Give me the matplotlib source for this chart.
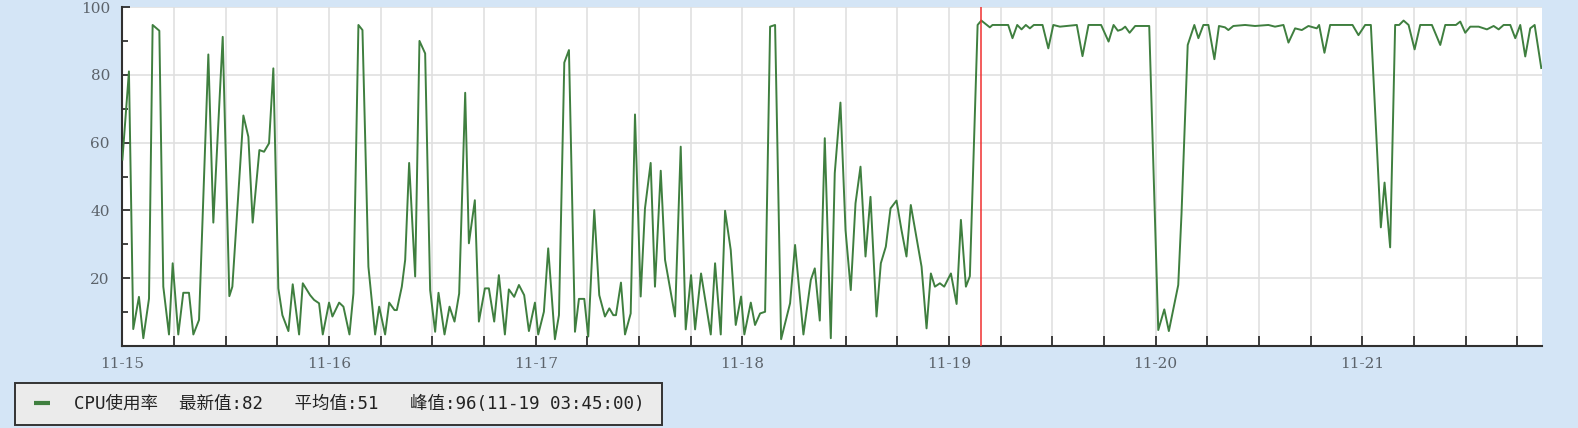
import matplotlib.pyplot as plt
from matplotlib.lines import Line2D

# CPU usage, hours since 11-15 00:00 and percent
hours = [
    0.0, 0.76, 1.26, 1.92, 2.43, 3.09, 3.51, 4.29, 4.75, 5.41, 5.84, 6.49, 7.07, 7.73, 8.24, 8.90,
    9.98, 10.56, 11.65, 12.42, 12.77, 14.05, 14.63, 15.13, 15.91, 16.45, 17.03, 17.53, 18.11, 18.58,
    19.28, 19.78, 20.52, 20.95, 21.80, 22.26, 22.84, 23.27, 24.00, 24.39, 25.17, 25.67, 26.37, 26.83,
    27.41, 27.88, 28.57, 29.35, 29.82, 30.51, 30.98, 31.60, 31.87, 32.45, 32.84, 33.30, 34.00, 34.50,
    35.16, 35.74, 36.32, 36.71, 37.41, 37.99, 38.57, 39.11, 39.81, 40.24, 40.93, 41.40, 42.10, 42.56,
    43.18, 43.72, 44.42, 44.88, 45.50, 46.05, 46.66, 47.21, 47.91, 48.29, 48.95, 49.45, 50.23, 50.70,
    51.32, 51.86, 52.56, 53.02, 53.64, 54.10, 54.80, 55.38, 56.04, 56.55, 57.01, 57.32, 57.90, 58.37,
    59.03, 59.53, 60.19, 60.69, 61.35, 61.85, 62.52, 63.02, 64.18, 64.84, 65.42, 66.04, 66.51, 67.20,
    68.33, 68.83, 69.49, 69.99, 70.65, 71.23, 71.85, 72.23, 72.98, 73.47, 74.06, 74.64, 75.22, 75.80,
    76.50, 77.54, 78.12, 79.09, 79.95, 80.41, 80.99, 81.57, 82.27, 82.73, 83.39, 83.98, 84.59, 85.14,
    85.72, 86.30, 86.88, 87.58, 88.08, 88.66, 89.21, 89.90, 90.48, 91.06, 91.56, 92.81, 93.39, 93.89,
    94.36, 94.94, 95.44, 96.22, 96.88, 97.38, 97.96, 98.42, 99.32, 99.75, 100.74, 101.05, 102.87,
    103.37, 103.92, 104.42, 104.92, 105.39, 105.85, 106.86, 107.53, 108.11, 108.88, 110.84, 111.50,
    112.20, 113.66, 114.53, 115.11, 115.61, 116.07, 116.46, 116.97, 117.62, 119.25, 120.30, 121.00,
    121.53, 122.62, 123.00, 123.72, 124.49, 124.96, 125.54, 126.12, 126.82, 127.35, 128.05, 128.44,
    129.02, 130.38, 131.54, 133.09, 133.86, 134.84, 135.42, 136.19, 136.97, 137.74, 138.71, 138.98,
    139.60, 140.26, 142.86, 143.55, 144.33, 144.99, 146.15, 146.58, 147.23, 147.81, 148.28, 148.79,
    149.37, 150.07, 150.72, 152.08, 153.05, 153.63, 154.87, 155.37, 155.95, 156.53, 157.51, 158.47,
    159.25, 159.83, 160.41, 161.18, 161.76, 162.34, 162.92, 163.50, 164.01, 164.78,
]
cpu = [
    55, 81, 5, 14.5, 2.3, 14, 94.7, 93, 17.5, 3.4, 24.4, 3.4, 15.7, 15.7, 3.4, 7.7,
    86, 36.4, 91.2, 14.7, 17.5, 68, 61.7, 36.4, 57.8, 57.3, 59.8, 81.9, 17, 9.1,
    4.4, 18.2, 3.4, 18.5, 15, 13.6, 12.6, 3.4, 12.8, 8.7, 12.8, 11.6, 3.4, 15.5,
    94.7, 93.2, 23.4, 3.4, 11.6, 3.4, 12.8, 10.6, 10.6, 17.5, 25.4, 54, 20.5, 90,
    86.3, 16.5, 4.2, 15.7, 3.4, 11.6, 7.2, 15.5, 74.7, 30.3, 43, 7.2, 17, 17,
    7.2, 20.9, 3.4, 16.7, 14.5, 18, 15, 4.4, 12.8, 3.4, 10.1, 28.8, 2, 9.1,
    83.6, 87.3, 4.2, 13.9, 13.9, 2.8, 40.1, 15, 8.7, 11.1, 9.1, 9.1, 18.7, 3.4,
    9.6, 68.3, 14.6, 40.6, 54, 17.5, 51.7, 25.4, 8.7, 58.8, 4.9, 20.9, 4.9, 21.4,
    3.4, 24.4, 3.4, 39.9, 28.3, 6.2, 14.6, 3.4, 12.8, 6.2, 9.6, 10.1, 94.2, 94.7,
    2, 12.6, 29.8, 3.4, 19.5, 22.9, 7.5, 61.3, 2.3, 51, 71.8, 34.2, 16.5, 42.1,
    52.9, 26.4, 44, 8.7, 24.4, 29.3, 40.6, 42.9, 34.2, 26.4, 41.6, 23.4, 5.2, 21.4,
    17.5, 18.5, 17.5, 21.4, 12.4, 37.2, 17.5, 20.6, 94.7, 96, 94, 94.7, 94.7,
    90.8, 94.7, 93.4, 94.7, 93.7, 94.7, 94.7, 87.8, 94.7, 94.2, 94.7, 85.5,
    94.7, 94.7, 89.8, 94.7, 93, 93.4, 94.2, 92.4, 94.4, 94.4, 4.7, 10.8,
    4.4, 18, 39, 88.8, 94.7, 90.8, 94.7, 94.7, 84.6, 94.4, 94, 93.2,
    94.4, 94.7, 94.4, 94.7, 94.2, 94.7, 89.5, 93.7, 93.2, 94.4, 93.7, 94.7,
    86.5, 94.7, 94.7, 91.7, 94.7, 94.7, 35, 48.2, 29.1, 94.7, 94.7, 96,
    94.7, 87.5, 94.7, 94.7, 88.8, 94.7, 94.7, 95.7, 92.4, 94.2, 94.2, 93.4,
    94.4, 93.4, 94.7, 94.7, 90.8, 94.7, 85.4, 93.7, 94.7, 82,
]
day_labels = ['11-15', '11-16', '11-17', '11-18', '11-19', '11-20', '11-21']
peak_hour = 99.75  # 11-19 03:45
legend_text = 'CPU使用率  最新值:82   平均值:51   峰值:96(11-19 03:45:00)'

bg = '#d4e5f6'
fig = plt.figure(figsize=(15.78, 4.28), dpi=100, facecolor=bg)
W, H = 1578, 428
ax = fig.add_axes([122.4 / W, 1 - 346 / H, (1542.3 - 122.4) / W, (346 - 7) / H])
ax.set_facecolor('white')

ax.plot(hours, cpu, color='#3f7f3f', lw=1.4, zorder=3)
ax.axvline(peak_hour, color='#f03030', lw=1.1, zorder=4)

ax.set_xlim(0, 164.9)
ax.set_ylim(0, 100)

ax.set_xticks([24 * i for i in range(len(day_labels))])
ax.set_xticklabels(day_labels)
ax.set_xticks([6 * i for i in range(28) if i % 4], minor=True)
ax.set_yticks([20, 40, 60, 80, 100])
ax.set_yticks([0, 10, 30, 50, 70, 90], minor=True)

ax.grid(True, which='both', axis='x', color='#e0e0e0', lw=1.2, zorder=0)
ax.grid(True, which='major', axis='y', color='#e0e0e0', lw=1.2, zorder=0)

for s in ['top', 'right']:
    ax.spines[s].set_visible(False)
for s in ['left', 'bottom']:
    ax.spines[s].set_color('#303030')
    ax.spines[s].set_linewidth(1.5)

ax.tick_params(axis='both', which='both', direction='in', color='#222222', width=1.2)
ax.tick_params(axis='x', which='both', length=7, pad=8)
ax.tick_params(axis='y', which='major', length=6, pad=9)
ax.tick_params(axis='y', which='minor', length=4)
for lab in ax.get_xticklabels() + ax.get_yticklabels():
    lab.set_family('DejaVu Serif')
    lab.set_fontsize(11)
    lab.set_color('#5c636b')

# short thick dash as the legend key
handle = Line2D([], [], color='#3f7f3f', ls='none', marker='_', markersize=11, markeredgewidth=3)
leg = fig.legend([handle], [legend_text], loc='lower left',
                 bbox_to_anchor=(15 / W, 3 / H, 647 / W, 42 / H), mode='expand',
                 borderaxespad=0, fancybox=False, framealpha=1,
                 facecolor='#ebebeb', edgecolor='#333333',
                 prop={'family': ['DejaVu Sans Mono', 'Noto Sans CJK SC'], 'size': 12.6},
                 handlelength=1.66, handletextpad=1.0, borderpad=0.7)
leg.get_frame().set_linewidth(1.4)
for t in leg.get_texts():
    t.set_color('#222222')

fig.savefig('out.png', dpi=100, facecolor=bg)
